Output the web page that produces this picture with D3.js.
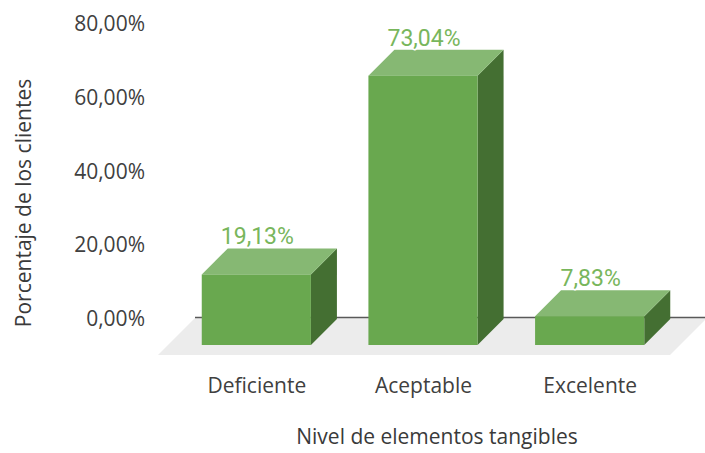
<!DOCTYPE html>
<html>
<head>
<meta charset="utf-8">
<script src="https://cdn.jsdelivr.net/npm/d3@7/dist/d3.min.js"></script>
<style>
  html, body { margin: 0; padding: 0; background: #ffffff; }
  svg { display: block; }
  .tick text { font-family: "Open Sans", "Noto Sans", sans-serif; fill: #404040; }
</style>
</head>
<body>
<svg id="chart" width="705" height="453"></svg>
<script>
// Survey results: share of clients per level of tangible elements
const categories = ["Deficiente", "Aceptable", "Excelente"];
const values = [19.13, 73.04, 7.83];
const yTicks = [0, 20, 40, 60, 80];
const xTitle = "Nivel de elementos tangibles";
const yTitle = "Porcentaje de los clientes";

const W = 705, H = 453;
const depth = 26;        // oblique offset of each bar's back face
const floorDepth = 37;   // oblique depth of the floor plane
const fontSize = 21;

const colors = {
  front: "#69a84f",
  top: "#86b873",
  side: "#446f32",
  floor: "#ececec",
  baseline: "#595959",
  label: "#78b65c",
  text: "#3a3a3a"
};

const locale = d3.formatLocale({ decimal: ",", thousands: ".", grouping: [3], currency: ["", " €"] });
const fmt2 = locale.format(".2f");
const pct = v => fmt2(v) + "%";

const svg = d3.select("#chart");

// y scale is measured on the back wall
const y = d3.scaleLinear().domain([0, 80]).range([319, 24]);
// x scale places the front face of each bar
const x = d3.scalePoint().domain(categories).range([173, 673]).padding(0.5);
const barW = x.step() * 0.655;

// Floor
const fy0 = y(0) - 1;
svg.append("polygon")
  .attr("points", [
    [195, fy0], [707, fy0], [707 - floorDepth, fy0 + floorDepth], [195 - floorDepth, fy0 + floorDepth]
  ].map(p => p.join(",")).join(" "))
  .attr("fill", colors.floor);

// Category axis line along the back wall
svg.append("line")
  .attr("x1", 195).attr("x2", 705)
  .attr("y1", fy0 - 0.5).attr("y2", fy0 - 0.5)
  .attr("stroke", colors.baseline).attr("stroke-width", 1.5);

// Value axis
const yAxis = svg.append("g")
  .attr("transform", "translate(148,0)")
  .call(d3.axisLeft(y).tickValues(yTicks).tickSize(0).tickPadding(3).tickFormat(pct));
yAxis.select(".domain").remove();
yAxis.selectAll("text").attr("font-size", fontSize).attr("fill", colors.text);

// Category axis labels
const xAxis = svg.append("g")
  .attr("transform", "translate(0,378)")
  .call(d3.axisBottom(x).tickSize(0).tickPadding(0));
xAxis.select(".domain").remove();
xAxis.selectAll("text").attr("font-size", fontSize).attr("fill", colors.text);

// 3D bars
const bars = svg.append("g").selectAll("g.bar")
  .data(categories.map((c, i) => ({ c, v: values[i] })))
  .join("g").attr("class", "bar");

const geom = d => {
  const x0 = x(d.c) - barW / 2, x1 = x0 + barW;
  const yt = y(d.v) + depth, yb = y(0) + depth;
  return { x0, x1, yt, yb };
};
const pts = arr => arr.map(p => p.join(",")).join(" ");

bars.append("polygon")
  .attr("points", d => { const g = geom(d); return pts([[g.x1, g.yt], [g.x1 + depth, g.yt - depth], [g.x1 + depth, g.yb - depth], [g.x1, g.yb]]); })
  .attr("fill", colors.side);

bars.append("polygon")
  .attr("points", d => { const g = geom(d); return pts([[g.x0, g.yt], [g.x1, g.yt], [g.x1 + depth, g.yt - depth], [g.x0 + depth, g.yt - depth]]); })
  .attr("fill", colors.top);

bars.append("rect")
  .attr("x", d => geom(d).x0)
  .attr("y", d => geom(d).yt)
  .attr("width", barW)
  .attr("height", d => geom(d).yb - geom(d).yt)
  .attr("fill", colors.front);

// Value labels
bars.append("text")
  .attr("x", d => x(d.c) + 1)
  .attr("y", d => y(d.v) - 4)
  .attr("text-anchor", "middle")
  .attr("font-family", "Roboto, sans-serif")
  .attr("font-size", 23)
  .attr("fill", colors.label)
  .attr("stroke", "#ffffff")
  .attr("stroke-width", 3)
  .attr("stroke-linejoin", "round")
  .attr("paint-order", "stroke")
  .text(d => pct(d.v));

// Axis titles
svg.append("text")
  .attr("x", 437).attr("y", 444)
  .attr("text-anchor", "middle")
  .attr("font-family", "'Open Sans', 'Noto Sans', sans-serif")
  .attr("font-size", fontSize)
  .attr("fill", colors.text)
  .text(xTitle);

svg.append("text")
  .attr("transform", "translate(31,203) rotate(-90)")
  .attr("text-anchor", "middle")
  .attr("font-family", "'Open Sans', 'Noto Sans', sans-serif")
  .attr("font-size", fontSize)
  .attr("fill", colors.text)
  .text(yTitle);
</script>
</body>
</html>
